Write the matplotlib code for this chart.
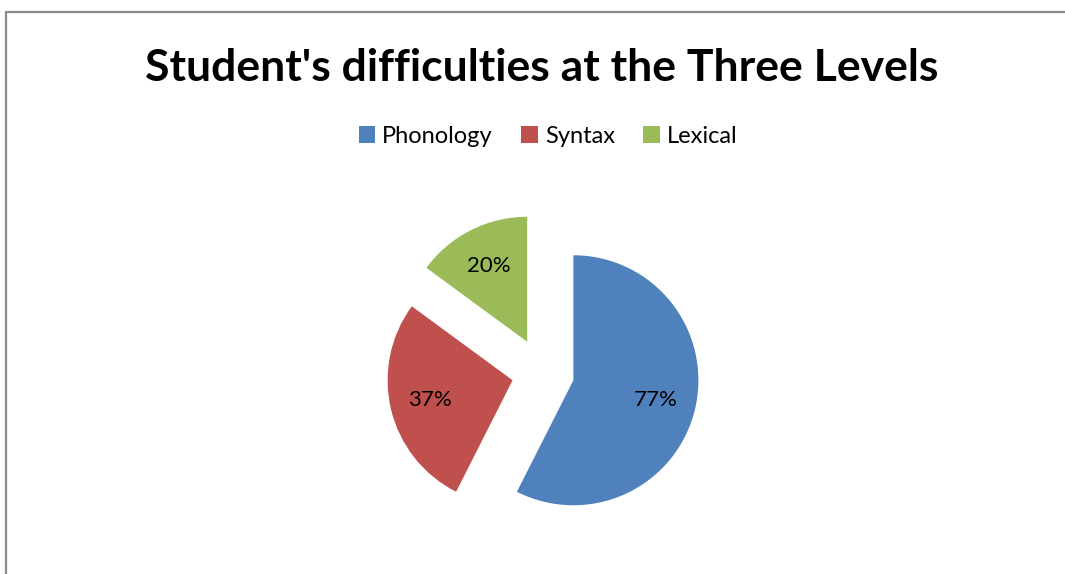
import matplotlib.pyplot as plt
from matplotlib.patches import Rectangle

# dados
categorias = ['Phonology', 'Syntax', 'Lexical']
valores = [77, 37, 20]
cores = ['#4F81BD', '#C0504D', '#9BBB59']
titulo = "Student's difficulties at the Three Levels"

plt.rcParams['font.family'] = ['Lato', 'DejaVu Sans']

fig = plt.figure(figsize=(10.65, 5.74), dpi=100)

# moldura cinza do grafico (so aparece esquerda e topo)
fig.patches.append(Rectangle((6 / 1065, -0.1), 1.2, 1 - 12 / 574 + 0.1,
                             transform=fig.transFigure, fill=False,
                             edgecolor='#8c8c8c', linewidth=1.6))

ax = fig.add_axes([0, 0, 1, 1])
total = sum(valores)
fatias, textos, autotextos = ax.pie(
    valores, colors=cores, startangle=90, counterclock=False,
    explode=[0.25, 0.25, 0.28], radius=1,
    autopct=lambda p: f'{p * total / 100:.0f}%', pctdistance=0.68,
    wedgeprops={'linewidth': 0}, textprops={'fontsize': 16, 'color': 'black'})
# raio = 125 px, centro em (543, 373) px
ax.set_xlim(-543 / 125, (1065 - 543) / 125)
ax.set_ylim(-(574 - 373) / 125, 373 / 125)
ax.set_aspect('equal')
ax.axis('off')

fig.text(542 / 1065, 1 - 68 / 574, titulo, ha='center', va='center',
         fontsize=32, fontweight='bold')

fig.legend(fatias, categorias, loc='center', bbox_to_anchor=(548 / 1065, 1 - 136 / 574),
           ncol=3, frameon=False, fontsize=17, handlelength=0.7, handleheight=0.7,
           handletextpad=0.3, columnspacing=1.2)

fig.savefig('out.png', dpi=100)
